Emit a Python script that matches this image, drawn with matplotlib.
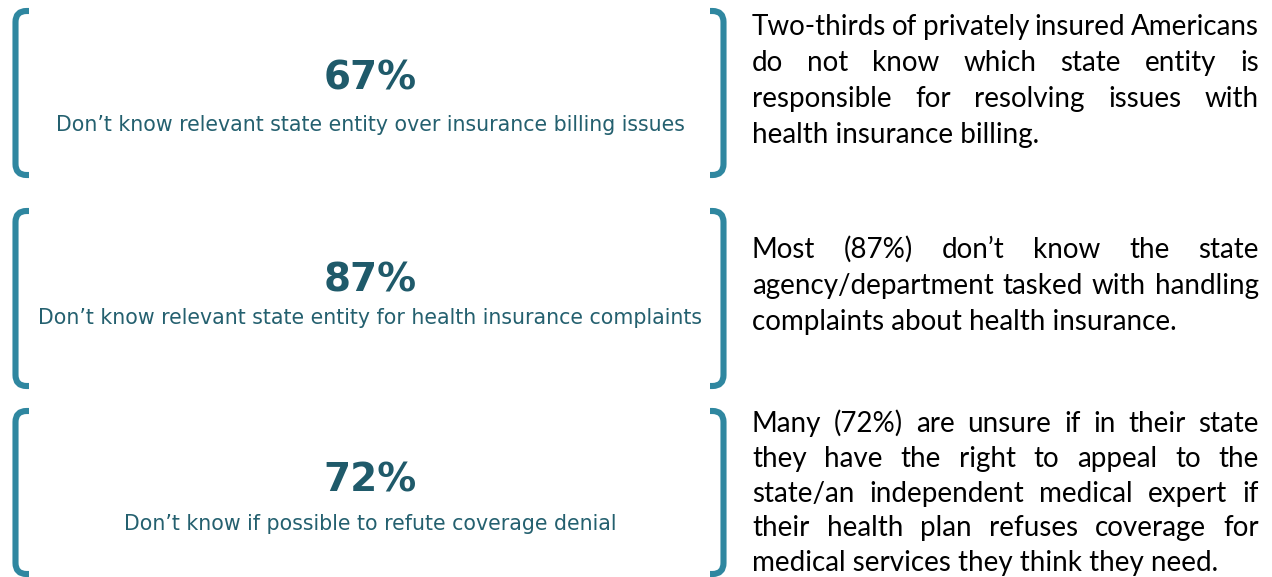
import matplotlib
matplotlib.use("Agg")
import matplotlib.pyplot as plt
from matplotlib.path import Path
from matplotlib.patches import PathPatch

# chart content
percents = ["67%", "87%", "72%"]
captions = ["Don\u2019t know relevant state entity over insurance billing issues",
            "Don\u2019t know relevant state entity for health insurance complaints",
            "Don\u2019t know if possible to refute coverage denial"]
desc_1 = ["Two-thirds of privately insured Americans",
          "do not know which state entity is",
          "responsible for resolving issues with",
          "health insurance billing."]
desc_2 = ["Most (87%) don\u2019t know the state",
          "agency/department tasked with handling",
          "complaints about health insurance."]
desc_3 = ["Many (72%) are unsure if in their state",
          "they have the right to appeal to the",
          "state/an independent medical expert if",
          "their health plan refuses coverage for",
          "medical services they think they need."]
descriptions = [desc_1, desc_2, desc_3]

# layout (pixels)
W, H = 1272, 577
bracket_col = "#2F87A0"
pct_col = "#1F5A6A"
cap_col = "#24606F"
panels = [  # top, bottom, pct baseline, caption baseline, desc first baseline, line step
    (11, 175, 89, 131, 35, 36),
    (211, 386, 291, 324, 258, 36),
    (411, 574, 492, 530, 432, 34.8),
]

fig = plt.figure(figsize=(W / 100, H / 100), dpi=100)
ax = fig.add_axes([0, 0, 1, 1])
ax.set_xlim(0, W)
ax.set_ylim(H, 0)
ax.axis("off")
renderer = fig.canvas.get_renderer()


def bracket(x_line, x_end, top, bottom, r=11):
    s = 1 if x_end > x_line else -1
    verts = [(x_end, top), (x_line + s * r, top), (x_line, top), (x_line, top + r),
             (x_line, bottom - r), (x_line, bottom), (x_line + s * r, bottom), (x_end, bottom)]
    codes = [Path.MOVETO, Path.LINETO, Path.CURVE3, Path.CURVE3,
             Path.LINETO, Path.CURVE3, Path.CURVE3, Path.LINETO]
    ax.add_patch(PathPatch(Path(verts, codes), fill=False, edgecolor=bracket_col,
                           lw=4.4, capstyle="butt", joinstyle="round"))


def justified(lines, x0, x1, y0, dy, **kw):
    for i, line in enumerate(lines):
        y = y0 + i * dy
        words = line.split()
        if i == len(lines) - 1:
            ax.text(x0, y, line, va="baseline", ha="left", **kw)
            continue
        texts = [ax.text(0, y, w, va="baseline", ha="left", **kw) for w in words]
        widths = [t.get_window_extent(renderer).width for t in texts]
        gap = (x1 - x0 - sum(widths)) / (len(words) - 1)
        x = x0
        for t, w in zip(texts, widths):
            t.set_x(x)
            x += w + gap


for i, (top, bot, yp, yc, yd, step) in enumerate(panels):
    bracket(15.5, 29, top, bot)
    bracket(723.5, 710, top, bot)
    ax.text(370, yp, percents[i], ha="center", va="baseline", fontsize=28,
            fontweight="bold", color=pct_col, family="DejaVu Sans")
    ax.text(370, yc, captions[i], ha="center", va="baseline", fontsize=14.8,
            color=cap_col, family="DejaVu Sans")
    justified(descriptions[i], 752, 1259, yd, step, fontsize=20,
              color="black", family="Lato")

fig.savefig("out.png", dpi=100)
